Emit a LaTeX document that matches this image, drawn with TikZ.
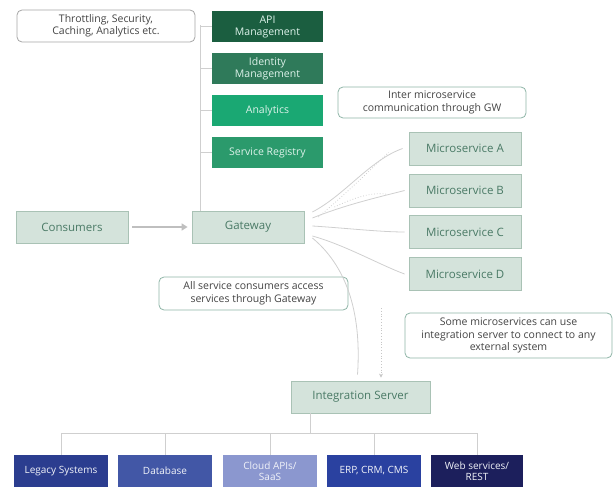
\documentclass[tikz,border=0pt]{standalone}
\usepackage{fontspec}
\setmainfont{Open Sans}
\usetikzlibrary{arrows.meta}
\definecolor{boxfill}{HTML}{D4E3DB}
\definecolor{boxborder}{HTML}{A9C2B5}
\definecolor{boxtext}{HTML}{4A7A66}
\definecolor{gA}{HTML}{1B5E40}
\definecolor{gB}{HTML}{2F7A5A}
\definecolor{gC}{HTML}{1AA873}
\definecolor{gD}{HTML}{2B9A6C}
\definecolor{bA}{HTML}{2B3D8F}
\definecolor{bB}{HTML}{4257A6}
\definecolor{bC}{HTML}{8B97CF}
\definecolor{bD}{HTML}{2A41A0}
\definecolor{bE}{HTML}{1C1F5C}
\definecolor{linegray}{HTML}{CFCFCF}
\definecolor{notetext}{HTML}{444444}
\definecolor{noteborder}{HTML}{8FB5A7}
\begin{document}
\begin{tikzpicture}[x=1pt,y=-1pt,
  box/.style={draw=boxborder, fill=boxfill, text=boxtext, minimum width=112pt, minimum height=32pt, inner sep=1pt, font=\fontsize{11.5}{13}\selectfont, line width=0.8pt},
  gbox/.style={text=white!85!gC, minimum width=111pt, minimum height=31pt, inner sep=1pt, align=center, font=\fontsize{10.5}{12}\selectfont},
  bbox/.style={text=white!88!bC, minimum width=94pt, minimum height=32pt, inner sep=1pt, align=center, font=\fontsize{10}{11.5}\selectfont},
  note/.style={draw=noteborder, fill=white, rounded corners=5pt, align=center, text=notetext, font=\fontsize{10.5}{12.5}\selectfont, line width=0.8pt, inner sep=1pt},
  conn/.style={draw=linegray, line width=0.8pt},
]
\useasboundingbox (0,0) rectangle (613,487);

% top services
\node[note, draw=gray!70, minimum width=178pt, minimum height=32pt] (n1) at (106,26) {Throttling, Security,\\Caching, Analytics etc.};
\node[gbox, fill=gA] (api) at (267.5,26.5) {API\\Management};
\node[gbox, fill=gB] (idm) at (267.5,68.5) {Identity\\Management};
\node[gbox, fill=gC] (ana) at (267.5,110.5) {Analytics};
\node[gbox, fill=gD] (reg) at (267.5,152.5) {Service Registry};

% main row
\node[box] (cons) at (72,227) {Consumers};
\node[box] (gw) at (248,227) {Gateway};

% microservices
\node[note, minimum width=188pt, minimum height=31pt] (n2) at (432,102.5) {Inter microservice\\communication through GW};
\node[box, minimum height=33pt] (msa) at (465,148.5) {Microservice A};
\node[box, minimum height=33pt] (msb) at (465,190.5) {Microservice B};
\node[box, minimum height=33pt] (msc) at (465,232) {Microservice C};
\node[box, minimum height=33pt] (msd) at (465,274) {Microservice D};

% notes
\node[note, minimum width=189pt, minimum height=33pt] (n3) at (253.5,293.5) {All service consumers access\\services through Gateway};
\node[note, minimum width=207pt, minimum height=45pt] (n4) at (508.5,335.5) {Some microservices can use\\integration server to connect to any\\external system};

% integration server
\node[box, minimum width=139pt] (integ) at (360.5,397) {Integration Server};

% bottom systems
\node[bbox, fill=bA] (leg) at (61,471) {Legacy Systems};
\node[bbox, fill=bB] (db) at (165,471) {Database};
\node[bbox, fill=bC] (cloud) at (270,471) {Cloud APIs/\\SaaS};
\node[bbox, fill=bD] (erp) at (374,471) {ERP, CRM, CMS};
\node[bbox, fill=bE, minimum width=92pt] (web) at (477,471) {Web services/\\REST};

% gateway spine to top services
\draw[conn] (gw.north -| 200,0) -- (200,25);
\foreach \n in {api,idm,ana,reg} \draw[conn] (\n.west -| 200,0) -- (\n.west);

% consumers -> gateway
\draw[draw=gray!50, line width=2.8pt, -{Triangle[length=6pt,width=7pt]}, shorten <=4pt, shorten >=4pt] (cons) -- (gw);

% gateway -> microservices
\draw[conn] ([xshift=8pt,yshift=15pt]gw.east) .. controls (345,195) and (370,160) .. ([xshift=-6pt]msa.west);
\draw[conn] ([xshift=8pt,yshift=9pt]gw.east) .. controls (345,205) and (375,198) .. ([xshift=-4pt]msb.west);
\draw[conn] ([xshift=8pt,yshift=1pt]gw.east) .. controls (345,228) and (380,232) .. ([xshift=-4pt]msc.west);
\draw[conn] ([xshift=8pt,yshift=-9pt]gw.east) .. controls (345,245) and (380,265) .. ([xshift=-4pt]msd.west);
\draw[conn, dotted] ([xshift=14pt,yshift=10pt]gw.east) .. controls (350,190) and (370,170) .. ([xshift=-20pt,yshift=-4pt]msa.west);
\draw[conn, dotted] ([xshift=30pt,yshift=20pt]gw.east) .. controls (360,195) and (375,192) .. ([xshift=-20pt,yshift=-4pt]msb.west);

% gateway -> integration server
\draw[conn] ([xshift=8pt,yshift=-11pt]gw.east) .. controls (345,265) and (362,310) .. ([xshift=-3pt,yshift=6pt]integ.north);
\coordinate (dstart) at (381,308);
\draw[conn, draw=gray!45, dotted, line width=1pt, -{Stealth[length=4pt,width=4pt]}] (dstart) -- ([xshift=20.5pt,yshift=3pt]integ.north);

% integration bus
\coordinate (bus) at (310,433);
\draw[conn] ([xshift=-50.5pt]integ.south) -- (bus);
\draw[conn] (leg.north |- bus) -- (web.north |- bus);
\foreach \n in {leg,db,cloud,erp,web} \draw[conn] (\n.north |- bus) -- (\n.north);
\end{tikzpicture}
\end{document}
